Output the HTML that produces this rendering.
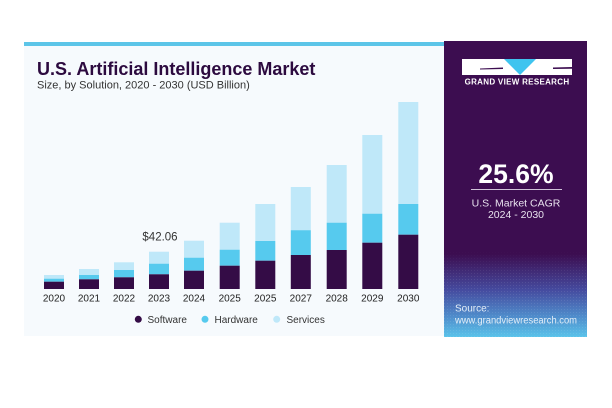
<!DOCTYPE html>
<html><head><meta charset="utf-8">
<style>
html,body{margin:0;padding:0;background:#fff;}
svg{display:block;}
text{font-family:"Liberation Sans",Arial,sans-serif;}
</style></head>
<body>
<svg width="612" height="408" viewBox="0 0 612 408" xmlns="http://www.w3.org/2000/svg">
<defs>
<linearGradient id="pg" x1="0" y1="0" x2="0" y2="1">
<stop offset="0" stop-color="#3c0d50"/>
<stop offset="0.72" stop-color="#3c0d50"/>
<stop offset="0.84" stop-color="#454a9e"/>
<stop offset="0.93" stop-color="#4f8ccb"/>
<stop offset="1" stop-color="#5ac3ea"/>
</linearGradient>
<pattern id="dots" width="3" height="3" patternUnits="userSpaceOnUse">
<rect x="0" y="0" width="1" height="1" fill="#ffffff" fill-opacity="0.09"/>
</pattern>
<linearGradient id="dm" x1="0" y1="0" x2="0" y2="1">
<stop offset="0" stop-color="#fff" stop-opacity="0"/>
<stop offset="0.7" stop-color="#fff" stop-opacity="0"/>
<stop offset="0.8" stop-color="#fff" stop-opacity="1"/>
<stop offset="1" stop-color="#fff" stop-opacity="1"/>
</linearGradient>
<mask id="mk"><rect x="444" y="41" width="143" height="296" fill="url(#dm)"/></mask>
</defs>
<!-- chart area background -->
<rect x="24" y="42" width="421" height="294" fill="#f6fafd"/>
<rect x="24" y="42" width="421" height="4" fill="#5cc5e8"/>
<!-- title -->
<text x="37" y="75" font-size="18" font-weight="bold" fill="#2c0a3f">U.S. Artificial Intelligence Market</text>
<text x="37" y="88.5" font-size="11" fill="#333">Size, by Solution, 2020 - 2030 (USD Billion)</text>
<!-- bars -->
<g>
<rect x="44" y="275" width="20" height="3.7" fill="#bfe8f9"/><rect x="44" y="278.7" width="20" height="3" fill="#56caee"/><rect x="44" y="281.7" width="20" height="7.3" fill="#340c46"/>
<rect x="79" y="269" width="20" height="6" fill="#bfe8f9"/><rect x="79" y="275" width="20" height="4.3" fill="#56caee"/><rect x="79" y="279.3" width="20" height="9.7" fill="#340c46"/>
<rect x="114" y="262.3" width="20" height="7.7" fill="#bfe8f9"/><rect x="114" y="270" width="20" height="7.3" fill="#56caee"/><rect x="114" y="277.3" width="20" height="11.7" fill="#340c46"/>
<rect x="149" y="251.7" width="20" height="12" fill="#bfe8f9"/><rect x="149" y="263.7" width="20" height="10.6" fill="#56caee"/><rect x="149" y="274.3" width="20" height="14.7" fill="#340c46"/>
<rect x="184" y="240.7" width="20" height="17" fill="#bfe8f9"/><rect x="184" y="257.7" width="20" height="13" fill="#56caee"/><rect x="184" y="270.7" width="20" height="18.3" fill="#340c46"/>
<rect x="219.7" y="222.7" width="20" height="27" fill="#bfe8f9"/><rect x="219.7" y="249.7" width="20" height="16" fill="#56caee"/><rect x="219.7" y="265.7" width="20" height="23.3" fill="#340c46"/>
<rect x="255.3" y="204" width="20" height="37" fill="#bfe8f9"/><rect x="255.3" y="241" width="20" height="19.7" fill="#56caee"/><rect x="255.3" y="260.7" width="20" height="28.3" fill="#340c46"/>
<rect x="290.8" y="187" width="20" height="43.2" fill="#bfe8f9"/><rect x="290.8" y="230.2" width="20" height="24.8" fill="#56caee"/><rect x="290.8" y="255" width="20" height="34" fill="#340c46"/>
<rect x="326.7" y="165" width="20" height="57.7" fill="#bfe8f9"/><rect x="326.7" y="222.7" width="20" height="27.3" fill="#56caee"/><rect x="326.7" y="250" width="20" height="39" fill="#340c46"/>
<rect x="362.3" y="135" width="20" height="78.7" fill="#bfe8f9"/><rect x="362.3" y="213.7" width="20" height="29" fill="#56caee"/><rect x="362.3" y="242.7" width="20" height="46.3" fill="#340c46"/>
<rect x="398.3" y="102" width="20" height="102" fill="#bfe8f9"/><rect x="398.3" y="204" width="20" height="30.7" fill="#56caee"/><rect x="398.3" y="234.7" width="20" height="54.3" fill="#340c46"/>
</g>
<text x="160" y="240.5" font-size="11.5" fill="#333" text-anchor="middle">$42.06</text>
<!-- year labels -->
<g font-size="10" fill="#222" text-anchor="middle">
<text x="54" y="301.5">2020</text>
<text x="89" y="301.5">2021</text>
<text x="124" y="301.5">2022</text>
<text x="159" y="301.5">2023</text>
<text x="194" y="301.5">2024</text>
<text x="229.7" y="301.5">2025</text>
<text x="265.3" y="301.5">2025</text>
<text x="300.8" y="301.5">2027</text>
<text x="336.7" y="301.5">2028</text>
<text x="372.3" y="301.5">2029</text>
<text x="408.3" y="301.5">2030</text>
</g>
<!-- legend -->
<circle cx="138.3" cy="319.3" r="3.5" fill="#340c46"/>
<text x="147.5" y="322.8" font-size="10" fill="#333">Software</text>
<circle cx="205" cy="319.3" r="3.5" fill="#56caee"/>
<text x="214.5" y="322.8" font-size="10" fill="#333">Hardware</text>
<circle cx="276.7" cy="319.3" r="3.5" fill="#bfe8f9"/>
<text x="286.5" y="322.8" font-size="10" fill="#333">Services</text>
<!-- right panel -->
<rect x="444" y="41" width="143" height="296" fill="url(#pg)"/>
<rect x="444" y="41" width="143" height="296" fill="url(#dots)" mask="url(#mk)"/>
<!-- logo -->
<rect x="462" y="59" width="110" height="16" fill="#ffffff"/>
<polygon points="504,59 536,59 520,75" fill="#3fc4ef"/>
<polygon points="480,68.5 503,67.5 503,69 480,69.5" fill="#3c0d50"/>
<polygon points="553,67.5 572,67 572,68.7 553,69" fill="#3c0d50"/>
<text x="517" y="84.5" font-size="8" font-weight="bold" fill="#ffffff" text-anchor="middle" letter-spacing="0.3">GRAND VIEW RESEARCH</text>
<!-- CAGR -->
<text x="516" y="183" font-size="26.5" font-weight="bold" fill="#ffffff" text-anchor="middle">25.6%</text>
<rect x="471" y="189" width="91" height="1" fill="#cfc3d8"/>
<text x="516" y="206.5" font-size="10.5" fill="#e8e2ee" text-anchor="middle">U.S. Market CAGR</text>
<text x="516" y="218" font-size="10.5" fill="#e8e2ee" text-anchor="middle">2024 - 2030</text>
<!-- source -->
<text x="455" y="311.5" font-size="10" fill="#e4eef8">Source:</text>
<text x="455" y="323.5" font-size="10" fill="#e4eef8" textLength="122" lengthAdjust="spacingAndGlyphs">www.grandviewresearch.com</text>
</svg>
</body></html>
